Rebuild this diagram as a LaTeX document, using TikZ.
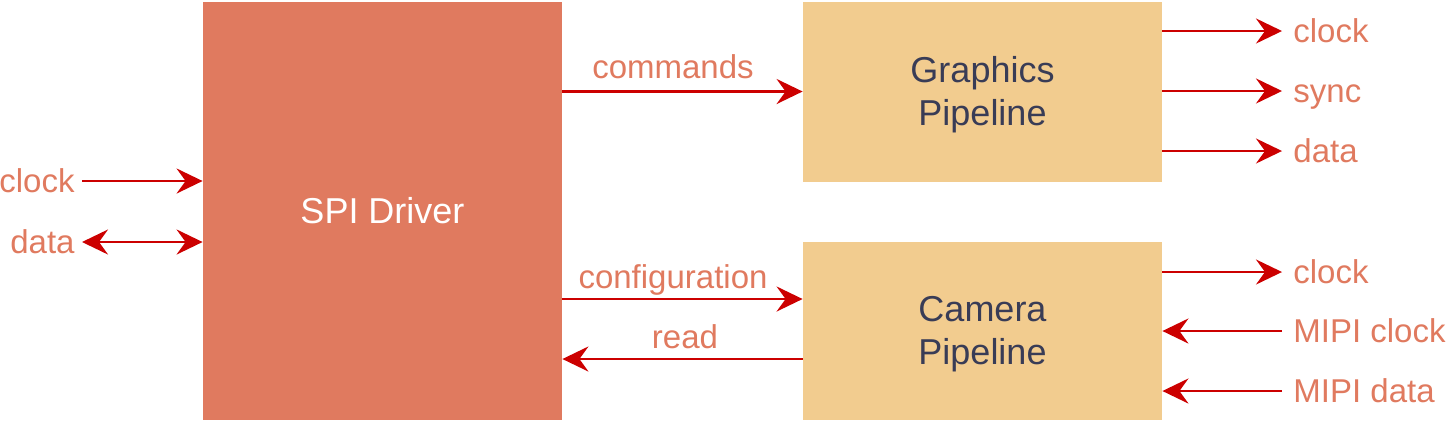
\documentclass[tikz,border=0pt]{standalone}
\usepackage{fontspec}
\setmainfont{Liberation Sans}
\usetikzlibrary{arrows.meta,positioning}
\definecolor{spiish}{HTML}{E07A5F}
\definecolor{pipeish}{HTML}{F2CC8F}
\definecolor{inkish}{HTML}{393C56}
\definecolor{wireish}{HTML}{CC0000}

\begin{document}
\begin{tikzpicture}[
   x=0.5pt, y=-0.5pt,
   every node/.append style={align=center},
   block/.style={draw=none, inner sep=0pt, minimum width=179.5pt,
     font=\fontsize{18}{21.5}\selectfont},
   pipe/.style={block, fill=pipeish, text=inkish, text height=37.3pt, text depth=3.8pt},
   lbl/.style={text=spiish, inner sep=0pt, text height=14.9pt, text depth=3.5pt,
     font=\fontsize{16.5}{20}\selectfont},
   wire/.style={draw=wireish, line width=1.3pt,
     -{Stealth[length=13pt,width=12.5pt,inset=4.5pt]}},
   wires/.style={wire,
     {Stealth[length=13pt,width=12.5pt,inset=4.5pt]}-{Stealth[length=13pt,width=12.5pt,inset=4.5pt]}}
]
\useasboundingbox (0,0) rectangle (1449,420);

% blocks
\node[block, fill=spiish, minimum height=209pt, text=white] (spi) at (382.5,211) {SPI Driver};
\node[pipe, minimum height=90pt] (gfx) at (982.5,91.5) {Graphics\\Pipeline};
\node[pipe, minimum height=89pt] (cam) at (982.5,331) {Camera\\Pipeline};

% left side
\node[lbl, anchor=east] (clkin) at (75,181) {clock};
\node[lbl, anchor=east] (datin) at (75,242) {data};
\draw[wire] ([xshift=3.5pt]clkin.east) -- (spi.west |- clkin);
\draw[wires] ([xshift=3.5pt]datin.east) -- (spi.west |- datin);

% between blocks
\node[lbl] (cmdlbl) at (673,67) {commands};
\node[lbl] (cfglbl) at (673,277) {configuration};
\node[lbl] (rdlbl) at (685,337) {read};
\coordinate (cfgy) at (0,299);
\coordinate (rdy) at (0,359);
\draw[wire] (spi.east |- gfx.west) -- (gfx.west);
\draw[wire] (spi.east |- cfgy) -- (cam.west |- cfgy);
\draw[wire] (cam.west |- rdy) -- (spi.east |- rdy);

% graphics outputs
\node[lbl, anchor=west] (gclk) at (1293,31) {clock};
\node[lbl, anchor=west] (gsync) at (1293,91) {sync};
\node[lbl, anchor=west] (gdat) at (1293,151) {data};
\foreach \n in {gclk,gsync,gdat}
  \draw[wire] (gfx.east |- \n) -- ([xshift=-5.5pt]\n.west);

% camera signals
\node[lbl, anchor=west] (cclk) at (1293,272) {clock};
\node[lbl, anchor=west] (mclk) at (1293,331) {MIPI clock};
\node[lbl, anchor=west] (mdat) at (1293,391) {MIPI data};
\draw[wire] (cam.east |- cclk) -- ([xshift=-5.5pt]cclk.west);
\draw[wire] ([xshift=-5.5pt]mclk.west) -- (cam.east |- mclk);
\draw[wire] ([xshift=-5.5pt]mdat.west) -- (cam.east |- mdat);
\end{tikzpicture}
\end{document}
